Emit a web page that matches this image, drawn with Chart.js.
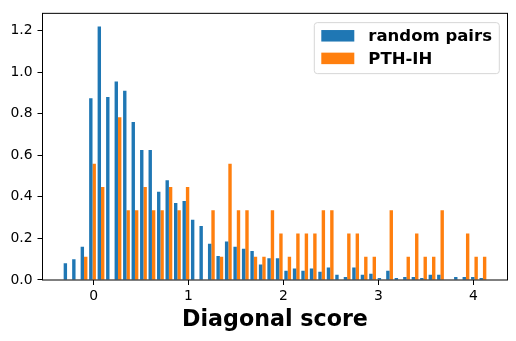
<!DOCTYPE html>
<html>
<head>
<meta charset="utf-8">
<script src="https://cdn.jsdelivr.net/npm/chart.js@4/dist/chart.umd.min.js"></script>
<style>
  html, body { margin: 0; padding: 0; background: #fff; }
</style>
</head>
<body>
<canvas id="histChart" width="516" height="341"></canvas>
<script>
// histogram bins (50 bins, density values)
const binStart = -0.324;
const binWidth = 0.0894;

const randomPairs = [
  0.08, 0.10, 0.16, 0.875, 1.22, 0.88, 0.955, 0.91, 0.76, 0.625,
  0.625, 0.425, 0.48, 0.37, 0.38, 0.29, 0.26, 0.175, 0.115, 0.185,
  0.16, 0.15, 0.14, 0.075, 0.105, 0.105, 0.045, 0.055, 0.045, 0.055,
  0.04, 0.06, 0.025, 0.015, 0.06, 0.025, 0.03, 0.01, 0.045, 0.01,
  0.015, 0.015, 0.01, 0.025, 0.025, 0, 0.015, 0.015, 0.015, 0.01
];

const pthIh = [
  0, 0, 0.112, 0.559, 0.447, 0, 0.783, 0.335, 0.335, 0.447,
  0.335, 0.335, 0.447, 0.335, 0.447, 0, 0, 0.335, 0.112, 0.559,
  0.335, 0.335, 0.112, 0.112, 0.335, 0.224, 0.112, 0.224, 0.224, 0.224,
  0.335, 0.335, 0, 0.224, 0.224, 0.112, 0.112, 0, 0.335, 0,
  0.112, 0.224, 0.112, 0.112, 0.335, 0, 0, 0.224, 0.112, 0.112
];

const seriesNames = ['random pairs', 'PTH-IH'];
const xTicks = [0, 1, 2, 3, 4];
const yTicks = [0, 0.2, 0.4, 0.6, 0.8, 1.0, 1.2];
const xTitle = 'Diagonal score';

const colors = ['#1f77b4', '#ff7f0e'];
const binCentres = randomPairs.map((v, i) => binStart + (i + 0.5) * binWidth);

function toPoints(values) {
  return values.map((v, i) => ({ x: binCentres[i], y: v }));
}

Chart.defaults.font.family = '"DejaVu Sans", sans-serif';
Chart.defaults.color = '#000';

// black box round the plot, like matplotlib spines
const framePlugin = {
  id: 'frame',
  afterDatasetsDraw(chart) {
    const { ctx, chartArea: a } = chart;
    ctx.save();
    ctx.strokeStyle = '#000';
    ctx.lineWidth = 1;
    ctx.strokeRect(a.left, a.top, a.right - a.left, a.bottom - a.top);
    ctx.restore();
  }
};

// legend in the upper right corner, inside the axes
const insideLegend = {
  id: 'insideLegend',
  afterDraw(chart) {
    const ctx = chart.ctx;
    const a = chart.chartArea;
    const boxW = 185, boxH = 51;
    const x0 = a.right - 8.2 - boxW, y0 = a.top + 9.3;
    ctx.save();
    ctx.beginPath();
    ctx.roundRect(x0, y0, boxW, boxH, 3);
    ctx.fillStyle = 'rgba(255,255,255,0.8)';
    ctx.fill();
    ctx.strokeStyle = '#d6d6d6';
    ctx.lineWidth = 1;
    ctx.stroke();
    ctx.font = 'bold 16.5px "DejaVu Sans"';
    ctx.textBaseline = 'alphabetic';
    chart.data.datasets.forEach((ds, i) => {
      const baseY = y0 + 18.4 + i * 22.6;
      ctx.fillStyle = ds.backgroundColor;
      ctx.fillRect(x0 + 7, baseY - 11, 33, 11.5);
      ctx.fillStyle = '#000';
      ctx.fillText(ds.label, x0 + 54, baseY);
    });
    ctx.restore();
  }
};

new Chart(document.getElementById('histChart'), {
  type: 'bar',
  data: {
    datasets: [
      { label: seriesNames[0], data: toPoints(randomPairs), backgroundColor: colors[0] },
      { label: seriesNames[1], data: toPoints(pthIh), backgroundColor: colors[1] }
    ]
  },
  options: {
    responsive: false,
    animation: false,
    devicePixelRatio: 1,
    layout: { padding: { top: 9, right: 8.5, left: 0, bottom: 0 } },
    datasets: { bar: { categoryPercentage: 0.8, barPercentage: 1.0, borderWidth: 0 } },
    plugins: { legend: { display: false }, tooltip: { enabled: false } },
    scales: {
      x: {
        type: 'linear',
        min: -0.538,
        max: 4.36,
        offset: false,
        afterBuildTicks: (scale) => { scale.ticks = xTicks.map(v => ({ value: v })); },
        afterFit: (scale) => { scale.height = 61; },
        ticks: { font: { size: 13.9 }, color: '#000', padding: 3, callback: v => String(v) },
        grid: { offset: false, drawOnChartArea: false, drawTicks: true, tickLength: 5, tickWidth: 1, tickColor: '#000' },
        border: { display: false },
        title: {
          display: true,
          text: xTitle,
          color: '#000',
          font: { size: 22.2, weight: 'bold' },
          padding: { top: 0, bottom: 7.7 }
        }
      },
      y: {
        min: 0,
        max: 1.283,
        afterBuildTicks: (scale) => { scale.ticks = yTicks.map(v => ({ value: v })); },
        afterFit: (scale) => { scale.width = 42.5; },
        ticks: { font: { size: 13.9 }, color: '#000', padding: 5, callback: v => v.toFixed(1) },
        grid: { drawOnChartArea: false, drawTicks: true, tickLength: 5, tickWidth: 1, tickColor: '#000' },
        border: { display: false }
      }
    }
  },
  plugins: [framePlugin, insideLegend]
});
</script>
</body>
</html>
